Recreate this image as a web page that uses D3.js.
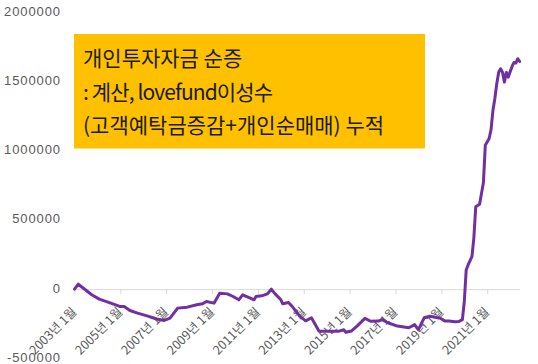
<!DOCTYPE html>
<html><head><meta charset="utf-8">
<script src="https://cdn.jsdelivr.net/npm/d3@7"></script>
<style>
html,body{margin:0;padding:0;background:#fff;}
svg{display:block;}
</style></head>
<body>
<script>
const months = ["2003-01","2003-03","2003-10","2004-02","2004-08","2005-01","2005-03","2005-06","2005-10","2006-03","2006-08","2006-12","2007-03","2007-07","2007-12","2008-05","2008-08","2008-10","2009-02","2009-05","2009-09","2009-12","2010-03","2010-05","2010-09","2010-11","2010-12","2011-03","2011-06","2011-08","2011-10","2012-01","2012-02","2012-05","2012-07","2012-11","2013-02","2013-05","2013-07","2013-09","2014-03","2014-07","2014-10","2014-11","2015-02","2015-05","2015-09","2015-12","2016-04","2016-06","2016-09","2017-02","2017-08","2017-11","2018-01","2018-04","2018-07","2018-11","2018-12","2019-03","2019-05","2019-08","2019-10","2019-12","2020-01","2020-02","2020-03","2020-05","2020-06","2020-07","2020-09","2020-10","2020-11","2020-12","2021-02","2021-03","2021-04","2021-05","2021-06","2021-07","2021-08","2021-09","2021-10","2021-11","2021-12","2022-02","2022-03","2022-04","2022-05","2022-06"];
const values = [0,36000,-40000,-72000,-101000,-126000,-126000,-154000,-173000,-193000,-216000,-226000,-209000,-137000,-130000,-113000,-106000,-89000,-101000,-29000,-34000,-53000,-77000,-41000,-65000,-77000,-53000,-48000,-34000,0,-34000,-77000,-106000,-97000,-126000,-197000,-229000,-207000,-256000,-304000,-304000,-305000,-294000,-312000,-302000,-265000,-211000,-232000,-231000,-220000,-243000,-267000,-279000,-256000,-293000,-207000,-196000,-207000,-207000,-231000,-231000,-236000,-234000,-221000,-91000,139000,175000,235000,370000,597000,615000,692000,770000,1041000,1090000,1154000,1293000,1380000,1486000,1570000,1594000,1570000,1498000,1568000,1534000,1611000,1640000,1636000,1667000,1647000];
const xTickMonths = ["2003-01","2005-01","2007-01","2009-01","2011-01","2013-01","2015-01","2017-01","2019-01","2021-01"];
const xTickLabels = ["2003년 1월","2005년 1월","2007년 1월","2009년 1월","2011년 1월","2013년 1월","2015년 1월","2017년 1월","2019년 1월","2021년 1월"];
const yTicks = [-500000,0,500000,1000000,1500000,2000000];
const titleLines = ["개인투자자금 순증", ": 계산, lovefund이성수", "(고객예탁금증감+개인순매매) 누적"];

const W = 538, H = 364;
const idx = s => { const [y,m] = s.split("-").map(Number); return (y-2003)*12 + (m-1); };
const data = months.map((m,i)=>({i: idx(m), v: values[i]}));

const svg = d3.select("body").append("svg").attr("width", W).attr("height", H);
const x = d3.scaleLinear().domain([0, 233]).range([74.5, 519.7]);
const y = d3.scaleLinear().domain([-500000, 2000000]).range([358.3, 12.7]);

// y axis labels
const yAxis = d3.axisLeft(y).tickValues(yTicks).tickSize(0).tickPadding(0).tickFormat(d => String(d));
const gy = svg.append("g").attr("transform", "translate(61,0)").call(yAxis);
gy.select(".domain").remove();
gy.selectAll("text").attr("fill", "#595959").attr("dy", "0.22em")
  .style("font-family", "'Liberation Sans', Arial, sans-serif")
  .style("font-size", "13px").style("letter-spacing", "0.9px");

// x axis
const xAxis = d3.axisBottom(x).tickValues(xTickMonths.map(idx)).tickSize(5).tickSizeOuter(0)
  .tickFormat((d,i)=>xTickLabels[i]);
const gx = svg.append("g").attr("transform", `translate(0,${y(0)})`).call(xAxis);
gx.select(".domain").attr("stroke", "#d9d9d9").attr("stroke-width", 1);
gx.selectAll(".tick line").attr("stroke", "#d9d9d9");
gx.selectAll(".tick text")
  .attr("fill", "#595959")
  .style("font-family", "'Noto Sans CJK KR', sans-serif")
  .style("font-size", "12.5px")
  .attr("text-anchor", "end")
  .attr("dy", null).attr("y", null)
  .attr("transform", "translate(2.5,23.5) rotate(-45)");

// line
const line = d3.line().x(d=>x(d.i)).y(d=>y(d.v));
svg.append("path").datum(data).attr("d", line)
  .attr("fill", "none").attr("stroke", "#7030A0").attr("stroke-width", 3)
  .attr("stroke-linejoin", "round").attr("stroke-linecap", "round");

// title box
svg.append("rect").attr("x", 74).attr("y", 34).attr("width", 351).attr("height", 114.5).attr("fill", "#FFC000");
svg.append("g").selectAll("text").data(titleLines).join("text")
  .attr("x", 83).attr("y", (d,i)=>66 + i*33.5)
  .attr("fill", "#1a1a1a")
  .style("font-family", "'Noto Sans CJK KR', sans-serif")
  .style("font-size", "21px")
  .attr("textLength", (d,i)=> i===1 ? 190 : null)
  .attr("lengthAdjust", "spacing")
  .text(d=>d);
</script>
</body></html>
